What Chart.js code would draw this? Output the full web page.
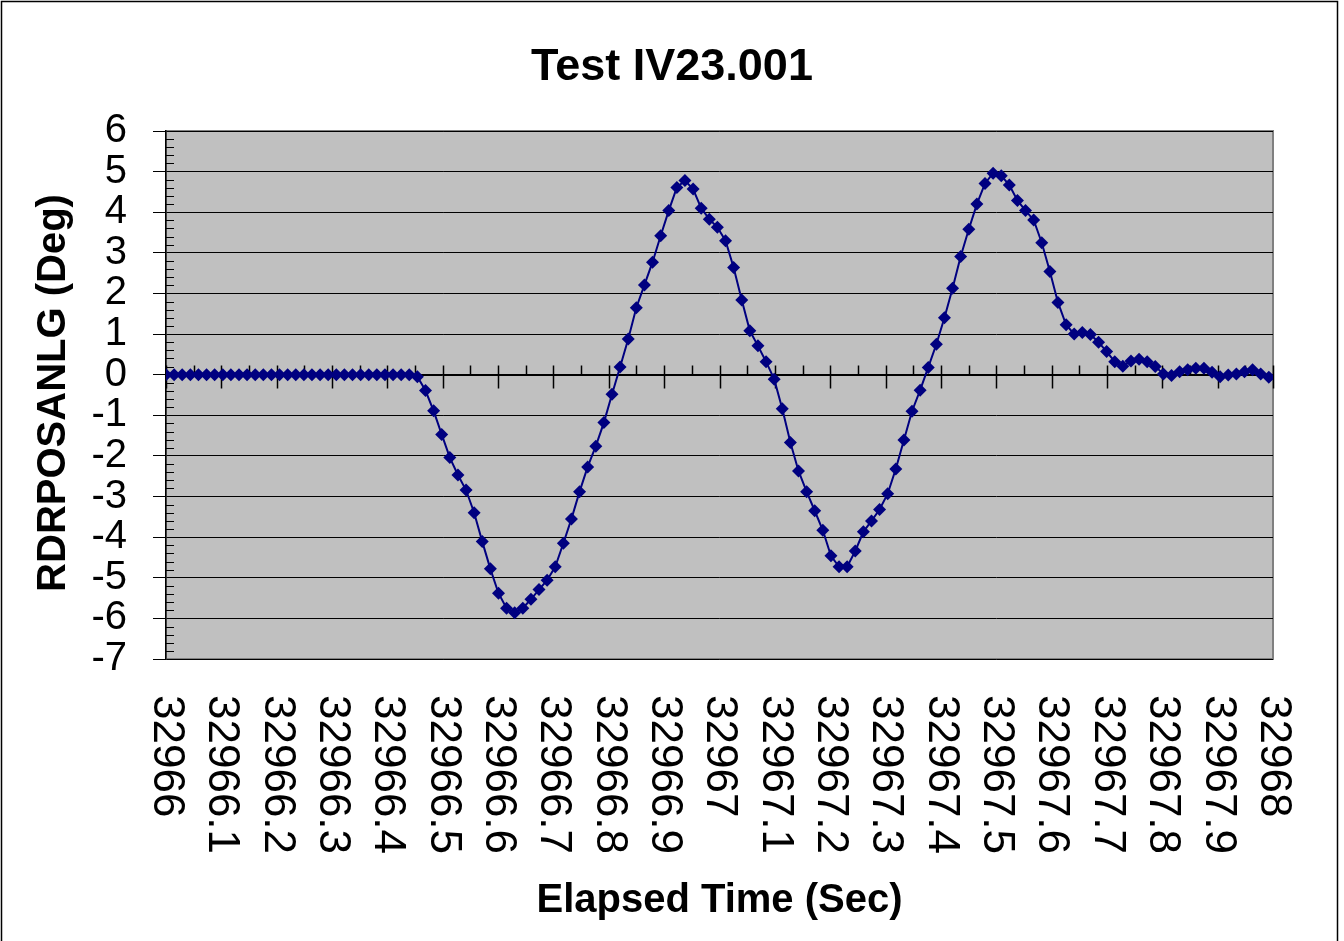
<!DOCTYPE html>
<html>
<head>
<meta charset="utf-8">
<script src="https://cdn.jsdelivr.net/npm/chart.js@4/dist/chart.umd.min.js"></script>
<style>
  html, body { margin: 0; padding: 0; background: #ffffff; }
  #wrap { width: 1344px; height: 941px; }
</style>
</head>
<body>
<div id="wrap"><canvas id="c" width="1344" height="941"></canvas></div>
<script>
// ---- Data ----
const chartTitle = "Test IV23.001";
const xAxisTitle = "Elapsed Time (Sec)";
const yAxisTitle = "RDRPOSANLG (Deg)";

const elapsedTime = [
  32966.0000, 32966.0147, 32966.0293, 32966.0440, 32966.0586, 32966.0733, 32966.0879, 32966.1026,
  32966.1172, 32966.1319, 32966.1465, 32966.1612, 32966.1758, 32966.1905, 32966.2051, 32966.2198,
  32966.2344, 32966.2491, 32966.2637, 32966.2784, 32966.2930, 32966.3077, 32966.3223, 32966.3370,
  32966.3516, 32966.3663, 32966.3809, 32966.3956, 32966.4102, 32966.4249, 32966.4395, 32966.4542,
  32966.4688, 32966.4835, 32966.4981, 32966.5128, 32966.5274, 32966.5421, 32966.5567, 32966.5714,
  32966.5860, 32966.6007, 32966.6153, 32966.6300, 32966.6446, 32966.6593, 32966.6739, 32966.6886,
  32966.7032, 32966.7179, 32966.7325, 32966.7472, 32966.7618, 32966.7765, 32966.7911, 32966.8058,
  32966.8204, 32966.8351, 32966.8497, 32966.8644, 32966.8790, 32966.8937, 32966.9083, 32966.9230,
  32966.9376, 32966.9523, 32966.9669, 32966.9816, 32966.9962, 32967.0109, 32967.0255, 32967.0402,
  32967.0548, 32967.0695, 32967.0841, 32967.0988, 32967.1134, 32967.1281, 32967.1427, 32967.1574,
  32967.1720, 32967.1867, 32967.2013, 32967.2160, 32967.2306, 32967.2453, 32967.2599, 32967.2746,
  32967.2892, 32967.3039, 32967.3185, 32967.3332, 32967.3478, 32967.3625, 32967.3771, 32967.3918,
  32967.4064, 32967.4211, 32967.4357, 32967.4504, 32967.4650, 32967.4797, 32967.4943, 32967.5090,
  32967.5236, 32967.5383, 32967.5529, 32967.5676, 32967.5822, 32967.5969, 32967.6115, 32967.6262,
  32967.6408, 32967.6555, 32967.6701, 32967.6848, 32967.6994, 32967.7141, 32967.7287, 32967.7434,
  32967.7580, 32967.7727, 32967.7873, 32967.8020, 32967.8166, 32967.8313, 32967.8459, 32967.8606,
  32967.8752, 32967.8899, 32967.9045, 32967.9192, 32967.9338, 32967.9485, 32967.9631, 32967.9778,
  32967.9924
];

const rudderAngle = [
  0, 0, 0, 0, 0, 0, 0, 0,
  0, 0, 0, 0, 0, 0, 0, 0,
  0, 0, 0, 0, 0, 0, 0, 0,
  0, 0, 0, 0, 0, 0, 0, -0.05,
  -0.39, -0.89, -1.47, -2.04, -2.47, -2.84, -3.40, -4.11,
  -4.78, -5.38, -5.75, -5.86, -5.75, -5.53, -5.29, -5.06,
  -4.73, -4.15, -3.55, -2.88, -2.27, -1.76, -1.18, -0.48,
  0.19, 0.88, 1.65, 2.21, 2.77, 3.42, 4.04, 4.61,
  4.78, 4.57, 4.10, 3.83, 3.63, 3.30, 2.64, 1.84,
  1.08, 0.71, 0.32, -0.11, -0.84, -1.67, -2.37, -2.88,
  -3.35, -3.83, -4.46, -4.73, -4.73, -4.34, -3.87, -3.60,
  -3.32, -2.93, -2.32, -1.61, -0.90, -0.38, 0.18, 0.75,
  1.40, 2.13, 2.91, 3.58, 4.20, 4.71, 4.96, 4.90,
  4.67, 4.29, 4.04, 3.81, 3.25, 2.54, 1.78, 1.23,
  1.00, 1.04, 0.99, 0.80, 0.57, 0.32, 0.21, 0.34,
  0.38, 0.32, 0.20, 0.02, -0.02, 0.07, 0.12, 0.16,
  0.16, 0.06, -0.05, -0.01, 0.02, 0.07, 0.12, 0.02,
  -0.06
];

const xTickValues = [32966, 32966.1, 32966.2, 32966.3, 32966.4, 32966.5, 32966.6, 32966.7, 32966.8, 32966.9,
  32967, 32967.1, 32967.2, 32967.3, 32967.4, 32967.5, 32967.6, 32967.7, 32967.8, 32967.9, 32968];
const xTickLabels = ["32966", "32966.1", "32966.2", "32966.3", "32966.4", "32966.5", "32966.6", "32966.7", "32966.8", "32966.9",
  "32967", "32967.1", "32967.2", "32967.3", "32967.4", "32967.5", "32967.6", "32967.7", "32967.8", "32967.9", "32968"];
const xMinorValues = [32966.05, 32966.15, 32966.25, 32966.35, 32966.45, 32966.55, 32966.65, 32966.75, 32966.85, 32966.95,
  32967.05, 32967.15, 32967.25, 32967.35, 32967.45, 32967.55, 32967.65, 32967.75, 32967.85, 32967.95];
const yMin = -7, yMax = 6;

const points = elapsedTime.map((t, i) => ({ x: t, y: rudderAngle[i] }));

const FONT = "'Liberation Sans', Arial, Helvetica, sans-serif";

const decor = {
  id: 'decor',
  beforeDraw(chart) {
    const { ctx, chartArea: a } = chart;
    ctx.save();
    ctx.fillStyle = '#ffffff';
    ctx.fillRect(0, 0, chart.width, chart.height);
    ctx.fillStyle = '#c0c0c0';
    ctx.fillRect(a.left, a.top, a.right - a.left, a.bottom - a.top);
    ctx.strokeStyle = '#808080';
    ctx.lineWidth = 2;
    ctx.strokeRect(a.left, a.top, a.right - a.left, a.bottom - a.top);
    ctx.strokeStyle = '#000000';
    ctx.lineWidth = 1.5;
    ctx.strokeRect(1.5, 1.5, 1336, 950);
    ctx.restore();
  },
  beforeDatasetsDraw(chart) {
    const { ctx, chartArea: a, scales } = chart;
    const xs = scales.x, ys = scales.y;
    ctx.save();
    ctx.strokeStyle = '#000000';
    ctx.lineWidth = 1;
    ctx.beginPath();
    for (let k = 0; k <= (yMax - yMin) * 5; k++) {
      if (k % 5 === 0) continue;
      const v = yMin + k * 0.2;
      const py = Math.round(ys.getPixelForValue(v)) + 0.5;
      ctx.moveTo(a.left, py);
      ctx.lineTo(a.left + 8, py);
    }
    ctx.stroke();
    const y0 = Math.round(ys.getPixelForValue(0)) + 0.5;
    ctx.beginPath();
    ctx.moveTo(a.left, y0);
    ctx.lineTo(a.right, y0);
    ctx.stroke();
    ctx.lineWidth = 1.5;
    ctx.beginPath();
    xTickValues.forEach(v => {
      const px = Math.round(xs.getPixelForValue(v)) + 0.5;
      ctx.moveTo(px, y0 - 10);
      ctx.lineTo(px, y0 + 13);
    });
    xMinorValues.forEach(v => {
      const px = Math.round(xs.getPixelForValue(v)) + 0.5;
      ctx.moveTo(px, y0 - 10);
      ctx.lineTo(px, y0);
    });
    ctx.stroke();
    ctx.restore();
  },
  afterDraw(chart) {
    const { ctx, chartArea: a, scales } = chart;
    const xs = scales.x;
    ctx.save();
    ctx.fillStyle = '#000000';
    ctx.font = 'bold 45px ' + FONT;
    ctx.textAlign = 'center';
    ctx.textBaseline = 'alphabetic';
    ctx.fillText(chartTitle, 672, 80);
    ctx.font = 'bold 40px ' + FONT;
    ctx.fillText(xAxisTitle, (a.left + a.right) / 2, 912);
    ctx.save();
    ctx.translate(65, 393);
    ctx.rotate(-Math.PI / 2);
    ctx.fillText(yAxisTitle, 0, 0);
    ctx.restore();
    ctx.font = '44px ' + FONT;
    ctx.textAlign = 'left';
    ctx.textBaseline = 'middle';
    xTickValues.forEach((v, i) => {
      const px = xs.getPixelForValue(v);
      ctx.save();
      ctx.translate(px, 695);
      ctx.rotate(Math.PI / 2);
      ctx.fillText(xTickLabels[i], 0, 0);
      ctx.restore();
    });
    ctx.restore();
  }
};

new Chart(document.getElementById('c'), {
  type: 'line',
  data: {
    datasets: [{
      data: points,
      borderColor: '#000080',
      backgroundColor: '#000080',
      borderWidth: 2,
      pointStyle: 'rectRot',
      pointRadius: 6.5,
      pointBorderWidth: 0,
      tension: 0
    }]
  },
  options: {
    responsive: false,
    animation: false,
    layout: { padding: { left: 0, right: 71, top: 131, bottom: 0 } },
    plugins: { legend: { display: false }, title: { display: false }, tooltip: { enabled: false } },
    scales: {
      x: {
        type: 'linear',
        min: 32966,
        max: 32968,
        grid: { display: false },
        border: { display: false },
        ticks: { display: false },
        afterFit(scale) { scale.height = 282; }
      },
      y: {
        min: yMin,
        max: yMax,
        ticks: {
          stepSize: 1,
          autoSkip: false,
          color: '#000000',
          font: { family: FONT, size: 40, lineHeight: 1 },
          padding: 26
        },
        grid: { color: '#000000', lineWidth: 1, tickLength: 13, drawTicks: true },
        border: { display: true, color: '#000000', width: 1.5 },
        afterFit(scale) { scale.width = 166; }
      }
    }
  },
  plugins: [decor]
});
</script>
</body>
</html>
